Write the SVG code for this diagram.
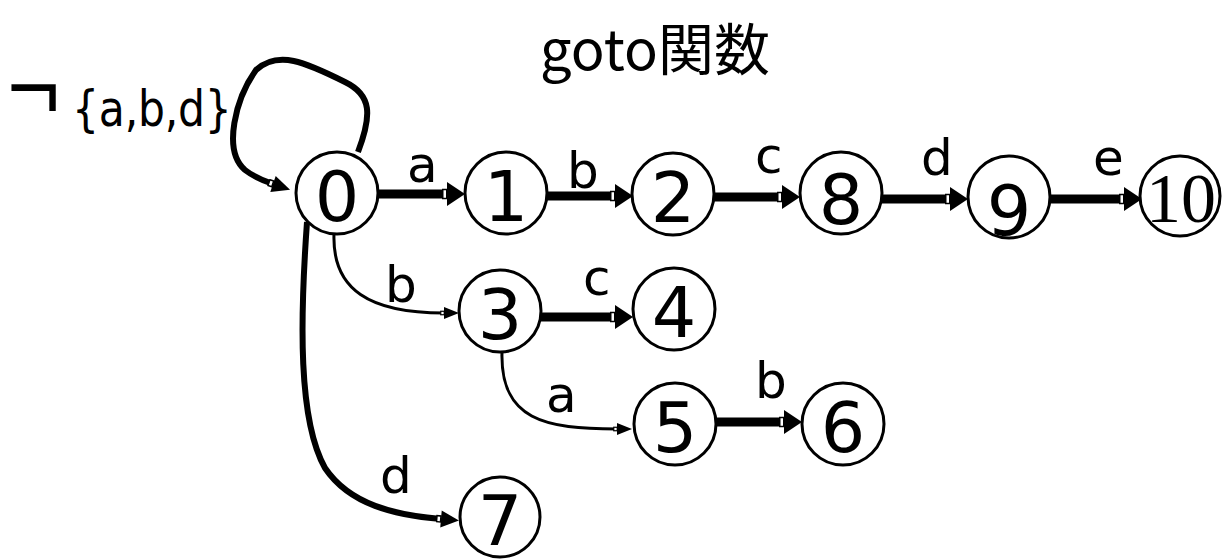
<svg xmlns="http://www.w3.org/2000/svg" width="1226" height="560" viewBox="0 0 1226 560">
  <style>
    .node circle { fill: #fff; stroke: #000; stroke-width: 3; }
    .node text { font-family: "DejaVu Sans", sans-serif; font-size: 70px; text-anchor: middle; fill: #000; }
    .node text.serif { font-family: "Liberation Serif", serif; }
    .edge { fill: none; stroke: #000; }
    .thick { stroke-width: 9; }
    .mid { stroke-width: 6; }
    .thin { stroke-width: 3; }
    .lbl { font-family: "DejaVu Sans", sans-serif; font-size: 50px; fill: #000; }
    .title { font-family: "Noto Sans CJK JP", "Noto Sans", sans-serif; font-size: 56px; text-anchor: middle; fill: #000; }
  </style>
  <defs>
    <!-- arrowheads: a small open notch at the end of the shaft, then a solid triangle -->
    <marker id="ah" viewBox="0 0 24 26" refX="5" refY="13" markerWidth="24" markerHeight="26" markerUnits="userSpaceOnUse" orient="auto">
      <rect x="0.75" y="8.5" width="4" height="9" fill="#fff" stroke="#000" stroke-width="1.5"/>
      <path d="M5,1 L23,13 L5,25 Z" fill="#000"/>
    </marker>
    <marker id="ahm" viewBox="0 0 24 18" refX="5" refY="9" markerWidth="24" markerHeight="18" markerUnits="userSpaceOnUse" orient="auto">
      <rect x="0.75" y="6" width="4" height="6" fill="#fff" stroke="#000" stroke-width="1.5"/>
      <path d="M5,0.5 L23,9 L5,17.5 Z" fill="#000"/>
    </marker>
    <marker id="ahs" viewBox="0 0 20 13" refX="4" refY="6.5" markerWidth="20" markerHeight="13" markerUnits="userSpaceOnUse" orient="auto">
      <rect x="0.75" y="4.75" width="3.5" height="3.5" fill="#fff" stroke="#000" stroke-width="1.2"/>
      <path d="M4,0.5 L19,6.5 L4,12.5 Z" fill="#000"/>
    </marker>
  </defs>

  <text class="title" x="655" y="70">goto関数</text>

  <!-- transitions -->
  <g id="edges">
    <!-- self loop on state 0 -->
    <path class="edge mid" d="M358,152 C372,115 372,95 345,82 C305,62 278,50 256,70 C236,98 222,150 245,170 C254,177 261,180 273,184" marker-end="url(#ahm)"/>
    <path class="edge thick" d="M378,194 L447,194" marker-end="url(#ah)"/>
    <path class="edge thick" d="M547,196 L615,196" marker-end="url(#ah)"/>
    <path class="edge thick" d="M714,197 L782,197" marker-end="url(#ah)"/>
    <path class="edge thick" d="M882,199 L950,199" marker-end="url(#ah)"/>
    <path class="edge thick" d="M1050,199 L1124,199" marker-end="url(#ah)"/>
    <path class="edge thin" d="M334,234 C332,290 370,313 444,313" marker-end="url(#ahs)"/>
    <path class="edge thick" d="M541,317 L615,317" marker-end="url(#ah)"/>
    <path class="edge thin" d="M502,352 C500,420 545,429 617,429" marker-end="url(#ahs)"/>
    <path class="edge thick" d="M716,422 L784,422" marker-end="url(#ah)"/>
    <path class="edge mid" d="M307,222 C300,320 298,420 325,468 C350,505 395,515 441,519" marker-end="url(#ahm)"/>
  </g>

  <g id="edge-labels">
    <text class="lbl" x="407" y="182">a</text>
    <text class="lbl" x="567" y="188">b</text>
    <text class="lbl" x="755" y="173">c</text>
    <text class="lbl" x="921" y="175">d</text>
    <text class="lbl" x="1093" y="175">e</text>
    <text class="lbl" x="385" y="302">b</text>
    <text class="lbl" x="583" y="295">c</text>
    <text class="lbl" x="546" y="412">a</text>
    <text class="lbl" x="755" y="398">b</text>
    <text class="lbl" x="380" y="493">d</text>
  </g>

  <g id="loop-label">
    <text transform="translate(7,119) scale(1.2,1.25)" font-family="Liberation Sans, sans-serif" font-size="76">¬</text>
    <text class="lbl" transform="translate(72,126) scale(0.85,1)" textLength="188">{a,b,d}</text>
  </g>

  <g id="s0" class="node"><circle cx="337" cy="193" r="41"/><text x="337" y="221">0</text></g>
  <g id="s1" class="node"><circle cx="506" cy="193" r="41"/><text x="506" y="221">1</text></g>
  <g id="s2" class="node"><circle cx="673" cy="194" r="41"/><text x="673" y="222">2</text></g>
  <g id="s8" class="node"><circle cx="841" cy="193" r="41"/><text x="841" y="224">8</text></g>
  <g id="s9" class="node"><circle cx="1009" cy="197" r="41"/><text x="1009" y="235">9</text></g>
  <g id="s10" class="node"><circle cx="1180" cy="196" r="40"/><text class="serif" x="1181" y="222">10</text></g>
  <g id="s3" class="node"><circle cx="500" cy="311" r="41"/><text x="500" y="339">3</text></g>
  <g id="s4" class="node"><circle cx="674" cy="309" r="41"/><text x="674" y="337">4</text></g>
  <g id="s5" class="node"><circle cx="675" cy="424" r="41"/><text x="675" y="452">5</text></g>
  <g id="s6" class="node"><circle cx="843" cy="424" r="41"/><text x="843" y="452">6</text></g>
  <g id="s7" class="node"><circle cx="500" cy="517" r="40"/><text x="500" y="545">7</text></g>
</svg>
